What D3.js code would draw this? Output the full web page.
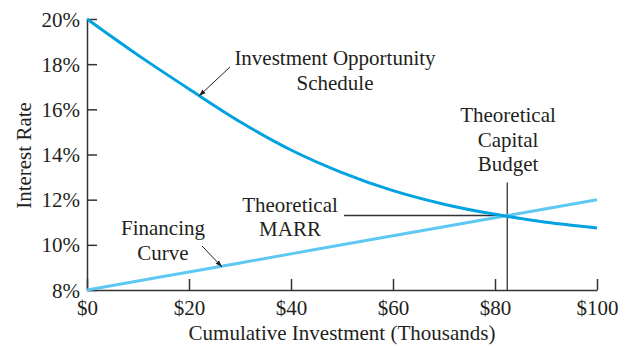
<!DOCTYPE html>
<html>
<head>
<meta charset="utf-8">
<script src="https://cdn.jsdelivr.net/npm/d3@7"></script>
<style>
  body { margin: 0; background: #fff; }
  text { font-family: "Liberation Serif", "Times New Roman", serif; fill: #231f20; }
</style>
</head>
<body>
<div class="canvas"></div>
<script>
const investment = [0, 10, 20, 30, 40, 50, 60, 70, 80, 90, 100];
const opportunityRate = [20, 18.4, 16.9, 15.45, 14.2, 13.2, 12.4, 11.8, 11.35, 11.0, 10.75];
const financingRate = [8, 8.4, 8.8, 9.2, 9.6, 10, 10.4, 10.8, 11.2, 11.6, 12];
const xTicks = [0, 20, 40, 60, 80, 100];
const yTicks = [8, 10, 12, 14, 16, 18, 20];
const budget = { x: 82.4, rate: 11.3 };

const dims = { width: 631, height: 346 };
const margin = { top: 19, right: 34, bottom: 56, left: 87 };
const w = dims.width - margin.left - margin.right;
const h = dims.height - margin.top - margin.bottom;
const fontSize = 21;

const svg = d3
  .select(".canvas")
  .append("svg")
  .attr("width", dims.width)
  .attr("height", dims.height);

const graph = svg
  .append("g")
  .attr("transform", `translate(${margin.left}, ${margin.top})`);

const x = d3.scaleLinear().domain([0, 100]).range([0, w]);
const y = d3.scaleLinear().domain([8, 20]).range([h, 0]);

const xAxis = d3
  .axisBottom(x)
  .tickValues(xTicks)
  .tickSizeInner(-11)
  .tickSizeOuter(0)
  .tickPadding(10)
  .tickFormat((d) => `$${d}`);

const yAxis = d3
  .axisLeft(y)
  .tickValues(yTicks)
  .tickSizeInner(-10)
  .tickSizeOuter(0)
  .tickPadding(7)
  .tickFormat((d) => `${d}%`);

const gx = graph.append("g").attr("transform", `translate(0, ${h})`).call(xAxis);
const gy = graph.append("g").call(yAxis);

[gx, gy].forEach((g) => {
  g.attr("font-size", fontSize).attr("font-family", '"Liberation Serif", serif');
  g.selectAll("path, line").attr("stroke", "#333").attr("stroke-width", 1.5);
  g.selectAll("text").attr("fill", "#231f20");
});
gy.selectAll("text").attr("dy", "0.34em");

// guide lines for the theoretical budget / MARR
graph
  .append("line")
  .attr("x1", x(budget.x))
  .attr("x2", x(budget.x))
  .attr("y1", y(budget.rate) - 33)
  .attr("y2", h)
  .attr("stroke", "#333")
  .attr("stroke-width", 1.3);

graph
  .append("line")
  .attr("x1", x(50.4))
  .attr("x2", x(budget.x))
  .attr("y1", y(budget.rate))
  .attr("y2", y(budget.rate))
  .attr("stroke", "#333")
  .attr("stroke-width", 1.3);

const line = (vals) =>
  d3
    .line()
    .x((d, i) => x(investment[i]))
    .y((d) => y(d))
    .curve(d3.curveMonotoneX)(vals);

graph
  .append("path")
  .attr("d", line(financingRate))
  .attr("fill", "none")
  .attr("stroke", "#5ec8f2")
  .attr("stroke-width", 3);

graph
  .append("path")
  .attr("d", line(opportunityRate))
  .attr("fill", "none")
  .attr("stroke", "#00a3e0")
  .attr("stroke-width", 3);

// annotations
svg
  .append("defs")
  .append("marker")
  .attr("id", "arrow")
  .attr("viewBox", "0 0 10 10")
  .attr("refX", 10)
  .attr("refY", 5)
  .attr("markerWidth", 7)
  .attr("markerHeight", 7)
  .attr("orient", "auto")
  .append("path")
  .attr("d", "M0,1.5 L10,5 L0,8.5 Z")
  .attr("fill", "#231f20");

const arrow = (x1, y1, x2, y2) =>
  svg
    .append("line")
    .attr("x1", x1)
    .attr("y1", y1)
    .attr("x2", x2)
    .attr("y2", y2)
    .attr("stroke", "#231f20")
    .attr("stroke-width", 1)
    .attr("marker-end", "url(#arrow)");

arrow(230, 67, 199, 96);
arrow(202, 246, 222, 267);

const label = (lines, cx, y0, step) => {
  const t = svg
    .append("text")
    .attr("text-anchor", "middle")
    .attr("font-size", fontSize);
  lines.forEach((s, i) =>
    t.append("tspan").attr("x", cx).attr("y", y0 + i * step).text(s)
  );
};

label(["Investment Opportunity", "Schedule"], 335, 65, 25);
label(["Theoretical", "Capital", "Budget"], 508, 122, 24.5);
label(["Theoretical", "MARR"], 290, 212, 24);
label(["Financing", "Curve"], 163, 235, 25);

svg
  .append("text")
  .attr("x", margin.left + w / 2)
  .attr("y", 340)
  .attr("text-anchor", "middle")
  .attr("font-size", fontSize)
  .text("Cumulative Investment (Thousands)");

svg
  .append("text")
  .attr("transform", `translate(31, ${margin.top + h / 2 + 1}) rotate(-90)`)
  .attr("text-anchor", "middle")
  .attr("font-size", fontSize)
  .text("Interest Rate");
</script>
</body>
</html>
